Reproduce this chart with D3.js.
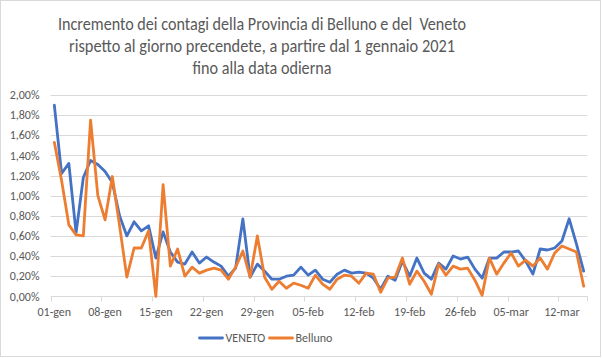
<!DOCTYPE html>
<html><head><meta charset="utf-8">
<script src="https://cdn.jsdelivr.net/npm/d3@7"></script>
<style>
html,body{margin:0;padding:0;background:#fff;}
svg{display:block;font-family:Carlito,Calibri,Lato,"Liberation Sans",sans-serif;}
</style></head>
<body><svg id="c" width="602" height="358"></svg>
<script>
const titleLines = [
  "Incremento dei contagi della Provincia di Belluno e del  Veneto",
  "rispetto al giorno precendete, a partire dal 1 gennaio 2021",
  "fino alla data odierna"
];
const startDate = new Date(2021, 0, 1);
const endDate = new Date(2021, 2, 16);
const yTicks = [0, 0.2, 0.4, 0.6, 0.8, 1.0, 1.2, 1.4, 1.6, 1.8, 2.0];
const tickLabels = ["01-gen","08-gen","15-gen","22-gen","29-gen","05-feb","12-feb","19-feb","26-feb","05-mar","12-mar"];
const seriesNames = ["VENETO", "Belluno"];
const seriesColors = ["#4472C4", "#ED7D31"];
const veneto = [1.90,1.22,1.32,0.63,1.18,1.35,1.31,1.24,1.13,0.80,
  0.60,0.74,0.65,0.70,0.38,0.64,0.44,0.34,0.32,0.44,
  0.33,0.39,0.34,0.30,0.20,0.28,0.77,0.19,0.32,0.25,
  0.17,0.17,0.20,0.21,0.29,0.21,0.26,0.17,0.14,0.22,
  0.26,0.23,0.24,0.23,0.18,0.07,0.20,0.16,0.35,0.20,
  0.38,0.23,0.17,0.33,0.27,0.40,0.37,0.39,0.27,0.18,
  0.38,0.38,0.44,0.44,0.45,0.35,0.22,0.47,0.46,0.48,
  0.55,0.77,0.52,0.25];
const belluno = [1.53,1.15,0.71,0.61,0.60,1.75,1.00,0.76,1.19,0.70,
  0.19,0.48,0.48,0.65,0.00,1.11,0.30,0.47,0.20,0.29,
  0.23,0.26,0.28,0.26,0.17,0.29,0.45,0.19,0.60,0.19,
  0.07,0.15,0.08,0.13,0.11,0.08,0.21,0.12,0.07,0.17,
  0.21,0.20,0.13,0.23,0.22,0.04,0.18,0.19,0.38,0.12,
  0.25,0.15,0.02,0.32,0.21,0.30,0.27,0.28,0.16,0.01,
  0.38,0.22,0.33,0.43,0.30,0.36,0.30,0.38,0.27,0.43,
  0.50,0.47,0.44,0.10];

const days = d3.timeDay.range(startDate, endDate);
const svg = d3.select("#c");
const W = 602, H = 358;
const grid = "#d9d9d9", txt = "#595959";

svg.append("rect").attr("x",0.5).attr("y",0.5).attr("width",W-2).attr("height",H-2)
  .attr("fill","#fff").attr("stroke",grid);

const pLeft = 50.7, pRight = 587.3, pTop = 95, pBottom = 296.3;
const x = d3.scaleBand().domain(d3.range(days.length)).range([pLeft, pRight]).padding(0);
const y = d3.scaleLinear().domain([0, 2]).range([pBottom, pTop]);

// title
const titleSizes = [408, 386, 139];
const tg = svg.append("g");
titleLines.forEach((t, i) => {
  tg.append("text").attr("x", 262).attr("y", 29.5 + i*22)
    .attr("text-anchor","middle").attr("font-size", 18.6).attr("fill", txt)
    .style("white-space","pre")
    .attr("textLength", titleSizes[i]).attr("lengthAdjust","spacingAndGlyphs")
    .text(t);
});

// gridlines
svg.append("g").selectAll("line").data(yTicks.filter(d=>d>0)).join("line")
  .attr("x1", pLeft).attr("x2", pRight)
  .attr("y1", d=>Math.round(y(d))+0.5).attr("y2", d=>Math.round(y(d))+0.5)
  .attr("stroke", grid).attr("stroke-width",1);

// y labels
const fmt = d => d.toFixed(2).replace(".", ",") + "%";
svg.append("g").selectAll("text").data(yTicks).join("text")
  .attr("x", 39.5).attr("y", d=>y(d)).attr("dy","0.35em")
  .attr("text-anchor","end").attr("font-size",12).attr("fill",txt)
  .text(fmt);

// x axis
const xa = svg.append("g").attr("transform", `translate(0,${Math.round(pBottom)+0.5})`);
xa.append("line").attr("x1", pLeft).attr("x2", pRight).attr("stroke", grid);
const tickIdx = d3.range(0, days.length, 7);
xa.selectAll("line.t").data(tickIdx).join("line").attr("class","t")
  .attr("x1", d=>Math.round(x(d))+0.5).attr("x2", d=>Math.round(x(d))+0.5)
  .attr("y1",0).attr("y2",5).attr("stroke",grid);
xa.append("line").attr("x1", Math.round(pRight)+0.5).attr("x2", Math.round(pRight)+0.5)
  .attr("y1",0).attr("y2",5).attr("stroke",grid);
xa.selectAll("text").data(tickIdx).join("text")
  .attr("x", (d,i)=>x(d)+x.bandwidth()/2).attr("y", 15).attr("dy","0.35em")
  .attr("text-anchor","middle").attr("font-size",12).attr("fill",txt)
  .text((d,i)=>tickLabels[i]);

// lines
const line = d3.line().x((d,i)=>x(i)+x.bandwidth()/2).y(d=>y(d));
[veneto, belluno].forEach((s, k) => {
  svg.append("path").datum(s).attr("d", line).attr("fill","none")
    .attr("stroke", seriesColors[k]).attr("stroke-width", 2.8)
    .attr("stroke-linejoin","round").attr("stroke-linecap","round");
});

// legend
const lg = svg.append("g").attr("transform","translate(0,338)");
const legX = [199.5, 269.5];
seriesNames.forEach((n,k)=>{
  lg.append("line").attr("x1",legX[k]).attr("x2",legX[k]+23).attr("y1",0).attr("y2",0)
    .attr("stroke",seriesColors[k]).attr("stroke-width",2.8).attr("stroke-linecap","round");
  lg.append("text").attr("x",legX[k]+26).attr("y",0).attr("dy","0.35em")
    .attr("font-size",12).attr("fill",txt).text(n);
});
</script></body></html>
